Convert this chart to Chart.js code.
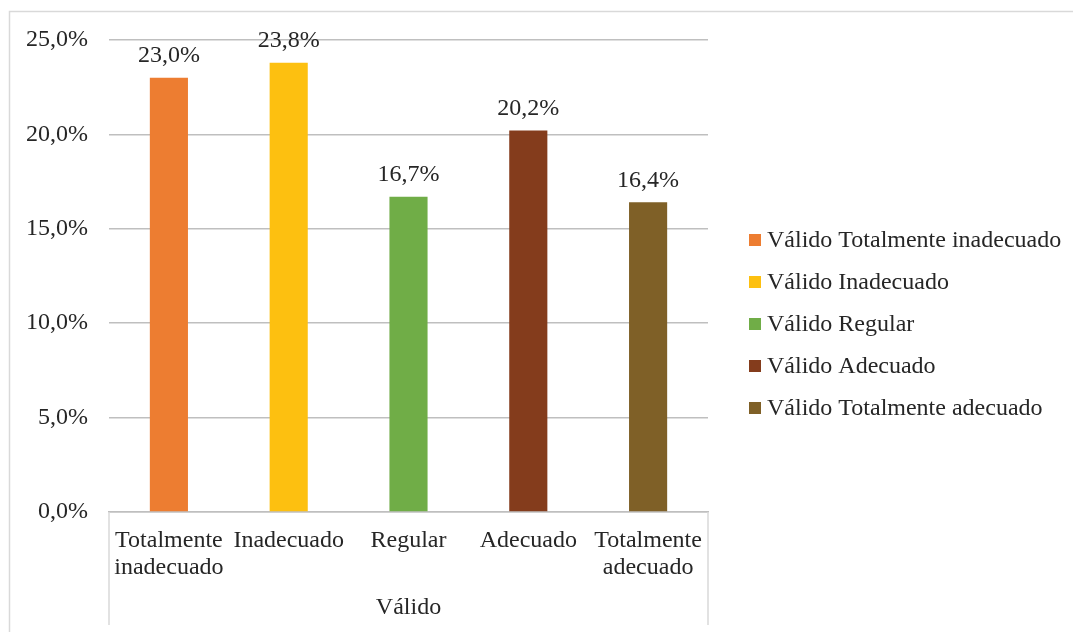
<!DOCTYPE html>
<html>
<head>
<meta charset="utf-8">
<script src="https://cdn.jsdelivr.net/npm/chart.js@4/dist/chart.umd.min.js"></script>
<style>
  html, body { margin: 0; padding: 0; background: #ffffff; }
  #wrap { position: relative; width: 1073px; height: 632px; }
</style>
</head>
<body>
<div id="wrap"><canvas id="c" width="1073" height="632"></canvas></div>
<script>
// ---- data ----
const categories = [
  ["Totalmente", "inadecuado"],
  ["Inadecuado"],
  ["Regular"],
  ["Adecuado"],
  ["Totalmente", "adecuado"]
];
const seriesNames = [
  "Válido Totalmente inadecuado",
  "Válido Inadecuado",
  "Válido Regular",
  "Válido Adecuado",
  "Válido Totalmente adecuado"
];
const seriesValues = [23.0, 23.8, 16.7, 20.2, 16.4];
const seriesColors = ["#ED7D31", "#FDC010", "#70AD47", "#843C1C", "#7F6027"];
const groupLabel = "Válido";
const yTicks = [0, 5, 10, 15, 20, 25];

const FONT = "'Liberation Serif', 'Times New Roman', serif";
const fmt = v => v.toFixed(1).replace('.', ',') + '%';

const datasets = seriesNames.map((name, i) => ({
  label: name,
  data: categories.map((c, j) => (j === i ? seriesValues[i] : null)),
  backgroundColor: seriesColors[i],
  borderWidth: 0,
  categoryPercentage: 0.95,
  barPercentage: 0.335
}));

const valueLabels = {
  id: 'valueLabels',
  afterDatasetsDraw(chart) {
    const ctx = chart.ctx;
    ctx.save();
    ctx.font = "24px " + FONT;
    ctx.fillStyle = "#262626";
    ctx.textAlign = "center";
    ctx.textBaseline = "alphabetic";
    chart.data.datasets.forEach((ds, di) => {
      const meta = chart.getDatasetMeta(di);
      meta.data.forEach((el, idx) => {
        const v = ds.data[idx];
        if (v === null || v === undefined) return;
        ctx.fillText(fmt(v), el.x, el.y - 15.5);
      });
    });
    ctx.restore();
  }
};

// legend drawn on the canvas from the library's own legend items
const sideLegend = {
  id: 'sideLegend',
  afterDraw(chart) {
    const ctx = chart.ctx;
    const items = Chart.defaults.plugins.legend.labels.generateLabels(chart);
    ctx.save();
    ctx.font = "24px " + FONT;
    ctx.textAlign = "left";
    ctx.textBaseline = "middle";
    items.forEach((it, i) => {
      const cy = 240 + 42 * i;
      ctx.fillStyle = it.fillStyle;
      ctx.fillRect(749, cy - 6, 12, 12);
      ctx.fillStyle = "#262626";
      ctx.fillText(it.text, 767, cy + 1);
    });
    ctx.restore();
  }
};

const frame = {
  id: 'frame',
  afterDraw(chart) {
    const ctx = chart.ctx;
    const a = chart.chartArea;
    ctx.save();
    ctx.strokeStyle = "#d9d9d9";
    ctx.lineWidth = 1.5;
    ctx.strokeRect(9.5, 11.5, 2000, 2000);
    ctx.beginPath();
    ctx.moveTo(a.left, a.bottom);
    ctx.lineTo(a.left, 625);
    ctx.moveTo(a.right, a.bottom);
    ctx.lineTo(a.right, 625);
    ctx.stroke();
    ctx.restore();
  }
};

new Chart(document.getElementById('c'), {
  type: 'bar',
  data: { labels: categories, datasets },
  plugins: [valueLabels, sideLegend, frame],
  options: {
    responsive: false,
    animation: false,
    devicePixelRatio: 1,
    layout: { padding: { top: 40, bottom: 24, left: 0, right: 365 } },
    datasets: { bar: { skipNull: true } },
    plugins: {
      tooltip: { enabled: false },
      legend: { display: false }
    },
    scales: {
      x: {
        grid: { display: false, drawTicks: false },
        border: { display: true, color: "#bfbfbf", width: 1.5 },
        ticks: {
          color: "#262626",
          padding: 15,
          maxRotation: 0,
          autoSkip: false,
          font: { family: FONT, size: 24, lineHeight: 1.125 }
        },
        title: {
          display: true,
          text: groupLabel,
          color: "#262626",
          font: { family: FONT, size: 24, lineHeight: 1.125 },
          padding: { top: 0, bottom: -13.5 }
        },
        afterFit(scale) { scale.height = 96; }
      },
      y: {
        min: 0,
        max: 25,
        afterBuildTicks(scale) { scale.ticks = yTicks.map(v => ({ value: v })); },
        grid: { color: "#bfbfbf", lineWidth: 1.5, drawTicks: false },
        border: { display: false },
        ticks: {
          color: "#262626",
          padding: 21,
          font: { family: FONT, size: 24 },
          callback: v => fmt(v)
        },
        afterFit(scale) { scale.width = 109; }
      }
    }
  }
});
</script>
</body>
</html>
